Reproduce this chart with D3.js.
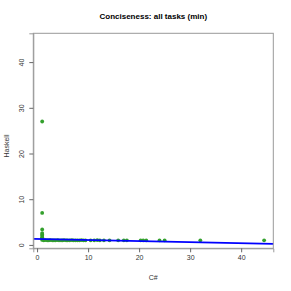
<!DOCTYPE html>
<html>
<head>
<meta charset="utf-8">
<script src="https://cdn.jsdelivr.net/npm/d3@7"></script>
<style>
  body { margin: 0; background: #fff; }
  text { font-family: "Liberation Sans", Arial, sans-serif; }
</style>
</head>
<body>
<div id="chart"></div>
<script>
var svgWidth = 291;
var svgHeight = 291;

// plot region (R style)
var plotLeft = 33.3, plotRight = 273.3, plotTop = 33.3, plotBottom = 248.3;

// C# (x) vs Haskell (y), min conciseness per task
var csharp = [1, 1, 1, 1, 1, 1, 1, 1, 1,
  1.3, 1.6, 2, 2.3, 2.6, 3, 3.3, 3.6, 4, 4.3, 4.7, 5, 5.3, 5.7, 6, 6.4, 6.8,
  7.1, 7.5, 7.9, 8.3, 8.7, 9.1, 9.5, 10.5, 11.2, 11.8, 12.3, 13.1, 14.2,
  15.9, 17, 17.6, 20.3, 20.8, 21.4, 24, 25, 32, 44.5];
var haskell = [27, 7, 3.4, 2.6, 2.3, 2, 1.7, 1.4, 1.1,
  1, 1.05, 1, 1, 1.05, 1, 1, 1, 1.05, 1, 1, 1, 1.05, 1, 1, 1, 1.05,
  1, 1, 1, 1, 1.05, 1, 1, 1, 1, 1.05, 1, 1, 1,
  1, 1, 1, 1, 1, 1, 1, 1, 1, 1];

// linear fit drawn across the plot
var fitIntercept = 1.29;
var fitSlope = -0.0233;

var axisLimits = [-0.74, 46.3];
var tickValues = [0, 10, 20, 30, 40];

var svg = d3.select("#chart")
  .append("svg")
  .attr("width", svgWidth)
  .attr("height", svgHeight);

var xScale = d3.scaleLinear().domain(axisLimits).range([plotLeft, plotRight]);
var yScale = d3.scaleLinear().domain(axisLimits).range([plotBottom, plotTop]);

var data = csharp.map(function(d, i) { return { x: d, y: haskell[i] }; });

// points
svg.append("g")
  .selectAll("circle")
  .data(data)
  .enter()
  .append("circle")
  .attr("cx", function(d) { return xScale(d.x); })
  .attr("cy", function(d) { return yScale(d.y); })
  .attr("r", 1.9)
  .attr("fill", "#33a02c");

// regression line
svg.append("line")
  .attr("x1", xScale(axisLimits[0]))
  .attr("y1", yScale(fitIntercept + fitSlope * axisLimits[0]))
  .attr("x2", xScale(axisLimits[1]))
  .attr("y2", yScale(fitIntercept + fitSlope * axisLimits[1]))
  .attr("stroke", "#0000ff")
  .attr("stroke-width", 1.8);

// box
svg.append("rect")
  .attr("x", plotLeft)
  .attr("y", plotTop)
  .attr("width", plotRight - plotLeft)
  .attr("height", plotBottom - plotTop)
  .attr("fill", "none")
  .attr("stroke", "#999")
  .attr("stroke-width", 1);

// axes
var xAxis = d3.axisBottom(xScale).tickValues(tickValues).tickSize(4).tickPadding(3);
var yAxis = d3.axisLeft(yScale).tickValues(tickValues).tickSize(4).tickPadding(3);

var gx = svg.append("g")
  .attr("transform", "translate(0," + plotBottom + ")")
  .call(xAxis);
var gy = svg.append("g")
  .attr("transform", "translate(" + plotLeft + ",0)")
  .call(yAxis);

[gx, gy].forEach(function(g) {
  g.select(".domain").attr("stroke", "#999");
  g.selectAll(".tick line").attr("stroke", "#666");
  g.selectAll(".tick text")
    .attr("fill", "#333")
    .style("font-size", "7px")
    .style("font-family", "Liberation Sans, Arial, sans-serif");
});

gy.selectAll(".tick text")
  .attr("transform", "rotate(-90)")
  .attr("x", 0)
  .attr("y", -12)
  .attr("dy", "0.32em")
  .attr("text-anchor", "middle");

// title
svg.append("text")
  .attr("x", (plotLeft + plotRight) / 2)
  .attr("y", 19)
  .attr("text-anchor", "middle")
  .style("font-size", "8px")
  .style("font-weight", "bold")
  .attr("fill", "#000")
  .text("Conciseness: all tasks (min)");

// axis labels
svg.append("text")
  .attr("x", (plotLeft + plotRight) / 2)
  .attr("y", 280)
  .attr("text-anchor", "middle")
  .style("font-size", "7px")
  .attr("fill", "#333")
  .text("C#");

svg.append("text")
  .attr("transform", "translate(9," + 146 + ") rotate(-90)")
  .attr("text-anchor", "middle")
  .style("font-size", "7px")
  .attr("fill", "#333")
  .text("Haskell");
</script>
</body>
</html>
